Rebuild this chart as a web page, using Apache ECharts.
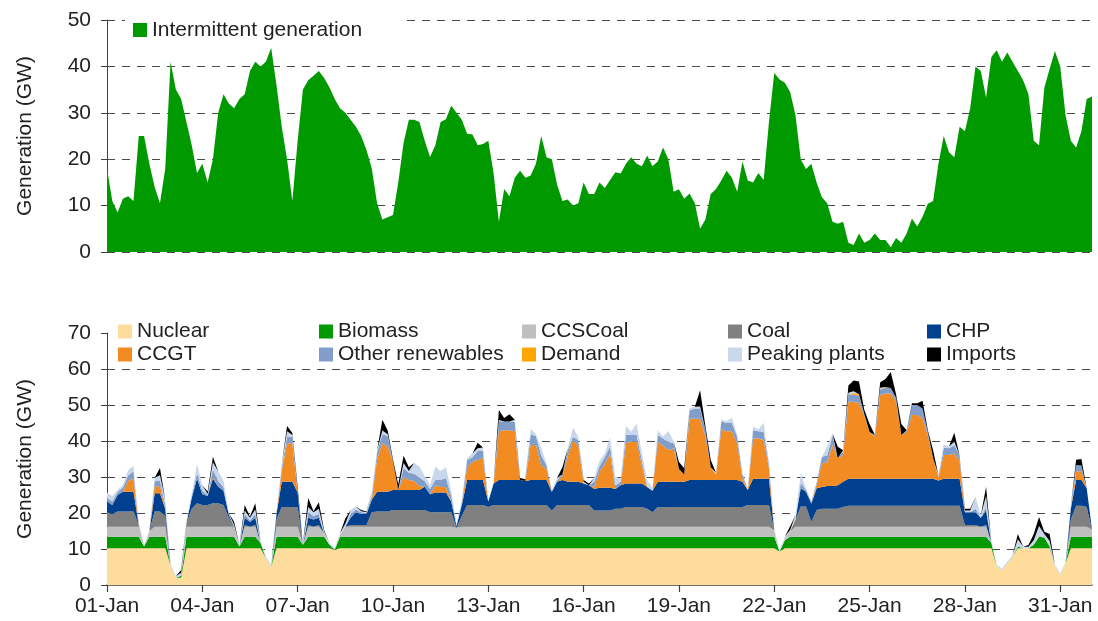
<!DOCTYPE html>
<html><head><meta charset="utf-8">
<script src="https://cdn.jsdelivr.net/npm/echarts@6/dist/echarts.min.js"></script>
<style>html,body{margin:0;padding:0;background:#fff}#c{width:1098px;height:621px}</style>
</head><body><div id="c"></div>
<script>
// time step of every series, in hours from 01-Jan 00:00
const STEP = 4;
const N_POINTS = 187;               // 01-Jan 00:00 ... 01-Feb 00:00
const TICK_EVERY = 18;              // 18 steps of 4 h = 3 days
const tickLabels = ['01-Jan','04-Jan','07-Jan','10-Jan','13-Jan','16-Jan','19-Jan','22-Jan','25-Jan','28-Jan','31-Jan'];

// top panel (GW), one value every 4 hours
const intermittent = [
18,11,8.5,11.5,12,11, 25,25,19,14,10.5,18, 41,35,33,28,23,17, 19,15,20,30,34,32,
31,33,34,39,41,40, 41,44,36,27,20,11, 24,35,37,38,39,37.5, 35.5,33,31,30,28.5,27,
25,22,18,10.5,7,7.5, 8,15,23.5,28.5,28.5,28, 24,20.5,23,28,28.6,31.5, 30,28.5,25.5,25.3,23,23.3,
24,17,6.5,13.6,12,16, 17.5,16,16.5,19,25,20.4, 20,14.5,11,11.3,10,10.5, 15,12.5,12.5,15,13.8,15.5,
17.2,16.9,19,20.4,19,18.5, 20.8,18.5,19.5,22.5,20,13, 13.5,11.5,12.6,10.5,5,7, 12.5,13.6,15.4,17.5,16,13,
19.5,15.4,15,17,15.5,28, 38.6,37.2,36.5,34.5,29.5,20, 17.9,19,15,11.8,10.5,6.5, 6.1,6.5,2,1.5,4,2,
2.6,4,2.6,2.6,1,3, 2,4,7.2,5.5,7.6,10.4, 11,19,25,21.5,20.4,27, 26,31,40,39,33.3,42,
43.5,41,43,41,39,37, 34,24,23,35.4,39.5,43.3, 40,29.5,24,22.5,26,33, 33.5];

// bottom panel layers (GW), one value every 4 hours
const nuclear = [
10.2,10.2,10.2,10.2,10.2,10.2, 10.2,10.2,10.2,10.2,10.2,10.2, 5.5,2,2,10.2,10.2,10.2, 10.2,10.2,10.2,10.2,10.2,10.2,
10.2,10.2,10.2,10.2,10.2,10.2, 7.4,5,10.2,10.2,10.2,10.2, 10.2,10.2,10.2,10.2,10.2,10.2, 10.2,9.8,10.2,10.2,10.2,10.2,
10.2,10.2,10.2,10.2,10.2,10.2, 10.2,10.2,10.2,10.2,10.2,10.2, 10.2,10.2,10.2,10.2,10.2,10.2, 10.2,10.2,10.2,10.2,10.2,10.2,
10.2,10.2,10.2,10.2,10.2,10.2, 10.2,10.2,10.2,10.2,10.2,10.2, 10.2,10.2,10.2,10.2,10.2,10.2, 10.2,10.2,10.2,10.2,10.2,10.2,
10.2,10.2,10.2,10.2,10.2,10.2, 10.2,10.2,10.2,10.2,10.2,10.2, 10.2,10.2,10.2,10.2,10.2,10.2, 10.2,10.2,10.2,10.2,10.2,10.2,
10.2,10.2,10.2,10.2,10.2,10.2, 10.2,9.3,10.2,10.2,10.2,10.2, 10.2,10.2,10.2,10.2,10.2,10.2, 10.2,10.2,10.2,10.2,10.2,10.2,
10.2,10.2,10.2,10.2,10.2,10.2, 10.2,10.2,10.2,10.2,10.2,10.2, 10.2,10.2,10.2,10.2,10.2,10.2, 10.2,10.2,10.2,10.2,10.2,10.2,
5.2,4.2,6,7.8,10.2,10.2, 10.2,10.2,10.2,10.2,10.2,5.2, 2.8,6,10.2,10.2,10.2,10.2, 10.2];
const biomass = [
3.2,3.2,3.2,3.2,3.2,3.2, 3.2,0.5,3.2,3.2,3.2,3.2, 0,0,0.6,3.2,3.2,3.2, 3.2,3.2,3.2,3.2,3.2,3.2,
3.2,0.5,3.2,3.2,3.2,1.5, 0,0,3.2,3.2,3.2,3.2, 3.2,1,3.2,3.2,3.2,3.2, 1,0,3.2,3.2,3.2,3.2,
3.2,3.2,3.2,3.2,3.2,3.2, 3.2,3.2,3.2,3.2,3.2,3.2, 3.2,3.2,3.2,3.2,3.2,3.2, 3.2,3.2,3.2,3.2,3.2,3.2,
3.2,3.2,3.2,3.2,3.2,3.2, 3.2,3.2,3.2,3.2,3.2,3.2, 3.2,3.2,3.2,3.2,3.2,3.2, 3.2,3.2,3.2,3.2,3.2,3.2,
3.2,3.2,3.2,3.2,3.2,3.2, 3.2,3.2,3.2,3.2,3.2,3.2, 3.2,3.2,3.2,3.2,3.2,3.2, 3.2,3.2,3.2,3.2,3.2,3.2,
3.2,3.2,3.2,3.2,3.2,3.2, 3.2,0,2.2,3.2,3.2,3.2, 3.2,3.2,3.2,3.2,3.2,3.2, 3.2,3.2,3.2,3.2,3.2,3.2,
3.2,3.2,3.2,3.2,3.2,3.2, 3.2,3.2,3.2,3.2,3.2,3.2, 3.2,3.2,3.2,3.2,3.2,3.2, 3.2,3.2,3.2,3.2,3.2,1.5,
0,0,0,0,0.5,0, 0,1,3.2,3,0.5,0, 0,0,3.2,3.2,3.2,3.2, 3.2];
const ccsCoal = [
2.8,2.8,2.8,2.8,2.8,2.8, 2.8,0,1.5,2.8,2.8,2.8, 0,0,0,2.8,2.8,2.8, 2.8,2.8,2.8,2.8,2.8,2.8,
2.8,0,2.8,2.8,2.8,0, 0,0,2.8,2.8,2.8,2.8, 2.8,0,2.8,2.8,2.8,1, 0,0,0.5,2.8,2.8,2.8,
2.8,2.8,2.8,2.8,2.8,2.8, 2.8,2.8,2.8,2.8,2.8,2.8, 2.8,2.8,2.8,2.8,2.8,2.8, 2.5,2.8,2.8,2.8,2.8,2.8,
2.8,2.8,2.8,2.8,2.8,2.8, 2.8,2.8,2.8,2.8,2.8,2.8, 2.8,2.8,2.8,2.8,2.8,2.8, 2.8,2.8,2.8,2.8,2.8,2.8,
2.8,2.8,2.8,2.8,2.8,2.8, 2.8,2.8,2.8,2.8,2.8,2.8, 2.8,2.8,2.8,2.8,2.8,2.8, 2.8,2.8,2.8,2.8,2.8,2.8,
2.8,2.8,2.8,2.8,2.8,2.8, 1.8,0,0.5,1.5,2.8,2.8, 2.8,2.8,2.8,2.8,2.8,2.8, 2.8,2.8,2.8,2.8,2.8,2.8,
2.8,2.8,2.8,2.8,2.8,2.8, 2.8,2.8,2.8,2.8,2.8,2.8, 2.8,2.8,2.8,2.8,2.8,2.8, 2.8,2.8,2.8,2.8,2.8,0,
0,0,0,0,0,0, 0,0,0.5,0,0,0, 0,0,2.8,2.8,2.8,2.8, 2];
const coal = [
4,3.5,4.2,4.2,4.2,4.2, 0.5,0,0,4.2,4.2,3, 0,0,0,1,5,6.5, 6,6,6.5,6.5,6,2.5,
0,0,0.5,0,0.5,0, 0,0,2,5.5,5.5,5.5, 5.5,0,0.5,0,0.5,0, 0,0,0,0,0.5,0.5,
0.5,0.5,4,4.2,4.2,4.2, 4.6,4.6,4.6,4.6,4.6,4.6, 4.6,4,4,4,4,4, 0,3,6,6,6,6,
5.5,6,6,6,6,6, 6,6,6,6,6,6, 4.5,6,6,6,6,6, 6,6,4.5,4.5,4.5,4.5,
5,5,5.5,5.5,5.5,5.5, 5,4,5.5,5.5,5.5,5.5, 5.5,5.5,5.5,5.5,5.5,5.5, 5.5,5.5,5.5,5.5,5.5,5.5,
5.5,6,6,6,6,6, 0,0,0,0,2,5.6, 5.6,1.4,4.6,5,5,5, 5,5.5,5.8,5.8,5.8,5.8,
5.8,5.8,5.8,5.8,5.8,5.8, 5.8,5.8,5.8,5.8,5.8,5.8, 5.8,5.8,5.8,5.8,5.8,5.8, 0.5,0.5,0.5,0,0.5,0,
0,0,0,0,0,0, 0,0,0,0,0,0, 0,0,2,5.8,5.8,5.5, 0];
const chp = [
3,2.5,4.6,5.5,5.5,5.5, 0,0,0,5.1,5.1,2, 0,0,0,0,3,6.9, 3,2.5,6.9,4.6,4,0.8,
0,0,2,1.3,2,0, 0,0,1.5,7,7,7, 4,0,2,2,2,0, 0,0,0,0,2,3.5,
3,3,3.5,5.5,5.5,5.5, 5.6,5.6,5.6,5.6,5.6,5.6, 6.5,5,5.5,5.5,5.5,3, 0.5,3,7,7,7,7,
1.5,6,7,7,7,7, 7,6.7,7,7,7,7, 5.2,6.5,7,6.5,6.5,6.5, 6,5.5,6,6.3,6.3,6.3,
5.5,6.5,6.5,6.5,6.5,6.5, 6,6,7,7,7,7, 7,7,7.5,7.5,7.5,7.5, 7.5,7.5,7.5,7.5,7.5,7.5,
7,4.2,7.3,7.3,7.3,7.3, 0,0,0,0,0,5.1, 4.1,5,6.1,6,6.3,6.3, 6.5,7,7.5,7.5,7.5,7.5,
7.5,7.5,7.5,7.5,7.5,7.5, 7.5,7.5,7.5,7.5,7.5,7.5, 7.5,7,7.5,7.5,7.5,7.5, 3.5,3.5,3.5,2.5,4,0,
0,0,0,0,0,0, 0,0,0,0,0,0, 0,0,3,7.2,7.2,5.2, 0];
const ccgt = [
0,0,0,0,3,3.7, 0,0,0,1.8,2,0, 0,0,0,0,0,0, 0,0,0.5,0,0,0,
0,0,0,0,0,0, 0,0,0,3,10.7,10.7, 0,0,0,0,0,0, 0,0,0,0,0,0,
0,0,0,9,13.5,12.5, 8,0,3.5,2.8,2.5,1, 0,0,2,1.5,1.5,0, 0,0,3.5,5,5.5,6,
0,0,13.5,13.8,13.8,13.5, 0,0,9.7,9.7,4,3, 0,0,1,7,11.5,10, 0,0,0.5,4.5,6.5,9.5,
0,0,11.2,11.6,11.6,5, 0,0,11,10,8.8,9.2, 3.5,2,17,17,17,12, 3.5,1.5,14,13.5,13.5,10,
1,0,11.2,11.2,10.8,3, 0,0,0,0,0,0, 0,0,1,6.6,6.5,11.4, 7.5,7.4,21.4,21.4,21,17.5,
13,11.7,23.3,23.7,23.7,21.5, 12.2,13,17.7,17.7,16.8,12, 5.7,1,6.6,6.6,7,5, 0,0,0,0,0,0,
0,0,0,0,0,0, 0,0,0,0,0,0, 0,0,0,2.3,2.5,0, 0];
const otherRenewables = [
1,1,0.8,1.2,1.5,2, 0,0,0,1.5,1.5,1, 0,0,0,0,0.5,1.5, 1,0.3,2,1.5,1,0,
0,0,1,0.5,1,0, 0,0,0,1,1.8,1.8, 0,0,1.5,1,1,0, 0,0,0,0,1,0.8,
0.5,0.3,1,2,2.5,3, 0,0,2.5,2,2,2.5, 1.5,1.5,1.5,2,2.5,1.5, 0,0.7,2,1.3,2.5,2,
0,0,2.8,2.4,2.4,2.7, 0,0,3,2.5,2.8,1, 0,0.5,0.5,1.8,1,1.5, 0,0,1.5,1.5,2,2,
1,1,2.3,2,2,1.5, 0,0,2,2,2.3,1.5, 0,0,2.3,2.8,2.8,2, 0,0,2.3,2.3,2.3,2,
1,0,2.3,2,2.3,1, 0,0,0,0,0,1.5, 0.5,0.5,0.5,1.8,2,2.5, 0,1,2,2,2,0.5,
0,0.5,1.5,1.5,1.5,1, 0,0.5,2.8,2.8,2.7,1, 0,0,2,1.9,2.3,1.5, 0,0,1,0,1,0,
0,0,0,0,0,0, 0,0,0,0,0,0, 0,0,0.5,1.8,1.5,0, 0];
const demand = [
0,0,0,0,0,0, 0,0,0,0,0,0, 0,0,0,0,0,0, 0,0,0,0,0,0,
0,0,0,0,0,0, 0,0,0,0,0,0, 0,0,0,0,0,0, 0,0,0,0,0,0,
0,0,0,0,0,0, 0,0,0,0,0,0, 0,0,0,0,0,0, 0,0,0,0,0,0,
0,0,0,0,0,0, 0,0,0,0,0,0, 0,0,0,0,0,0, 0,0,0,0,0,0,
0,0,0,0,0,0, 0,0,0,0,0,0, 0,0,0,0,0,0, 0,0,0,0,0,0,
0,0,0,0,0,0, 0,0,0,0,0,0, 0,0,0,0,0,0, 0,0,0,0.4,0.5,0,
0,0,0,0.3,0,0, 0,0,0,0,0,0, 0,0,0,0,0,0, 0,0,0,0,0,0,
0,0,0,0,0,0, 0,0,0,0,0,0, 0,0,0,0,0,0, 0];
const peakingPlants = [
1.5,1.5,0.6,0.7,1.5,1.5, 0.5,0.3,0.4,1,1.5,1.5, 0.5,0.5,0.8,0.8,0.5,2.5, 1.5,0.3,2,2.7,1.8,0.5,
0.5,0.4,1,0.7,1.3,0.5, 0.5,0.6,0.5,1,1.5,0.5, 0.5,0.5,1.5,1,1.5,0.5, 0.4,0.4,0.5,0.8,1.1,0.8,
0.3,0.2,1.3,0.5,1,0.5, 0,0,1.5,0.5,3,3, 1.5,1.1,3.7,2.5,3,1.5, 0.7,0.7,0.5,1,0.8,1,
0.4,0.5,0.3,0,0,0.5, 0,0,1.5,0.5,2,0.5, 0.5,0.6,0,0.5,2.5,1, 0.5,0,1,1.5,1,2.5,
2.3,0.9,2.5,0.8,3,2, 2,0.7,1.3,0.5,3,0.5, 0,0,0.5,0.5,0.6,0, 0,0.5,0.5,0.5,1.5,0.5,
0.5,0.5,1,0.5,2.5,0.5, 0.5,0.4,0.5,0.4,1.2,2.6, 0.5,0,0,0,2.5,0.7, 0,0.3,0.5,0.5,0,0,
0,0,0.5,0,0,0, 0,0,0,0,0,0, 0,0.5,1,0.5,1,0, 0.5,0.5,3.3,0.7,3,0.3,
0.4,0.4,0.5,0.5,2,0.4, 0.4,1.2,2.5,1,1.5,0.4, 0.4,0.4,0.3,0,0,0, 0];
const imports = [
0,0,0,0,0,0, 0,0,0,0,2,0, 0,0,0.8,0,0,0, 0,0.7,1.5,0,0,0,
0.9,0,1.5,0.3,1.7,0, 0,0,0,0,1.5,0.5, 1,0,2.5,0.3,1.8,0.4, 0,0,0,1.5,0,0,
0.3,0.2,0,0,3,1, 0.5,1.6,2,1,0,0, 0,0,0,0,0,0, 0,0,0,0,1.5,0,
0,0,2.8,1,2,0, 0.5,0.5,0,0,0,0, 0,0,2,0,0,0, 0.5,0.5,0,0,0,0,
0,0,0,0,0,0, 0,0,0,0,0,0, 2,1.7,0,0,4.5,1, 2,0,0,0,0,0,
0,0,0,0,0,0, 0,0,0,1,0,0, 0,0,0,0,0,0, 3.2,0,2,3,3.5,1.2,
2.2,0,1.5,2.2,4.5,1, 3,0,0.5,0.5,2.2,0.5, 2.2,0,0,0,2.5,0, 0.5,0.5,0,0,2.5,0,
0,0,0,0,1.5,0, 0.5,1.8,2.5,0.6,2,0, 0,0,0,1.5,1.8,0, 0];

const layers = [
  ['Nuclear', nuclear, '#FDDC9C'],
  ['Biomass', biomass, '#009A00'],
  ['CCSCoal', ccsCoal, '#BFBFBF'],
  ['Coal', coal, '#808080'],
  ['CHP', chp, '#00408E'],
  ['CCGT', ccgt, '#F38B23'],
  ['Other renewables', otherRenewables, '#809EC9'],
  ['Demand', demand, '#FFA500'],
  ['Peaking plants', peakingPlants, '#C8D7EB'],
  ['Imports', imports, '#000000']
];
const legendColumns = [['Nuclear','CCGT'],['Biomass','Other renewables'],['CCSCoal','Demand'],['Coal','Peaking plants'],['CHP','Imports']];
const legendLefts = [118, 319, 522, 728, 927];

const hours = Array.from({ length: N_POINTS }, (_, i) => String(i * STEP));
const isTick = (idx) => idx % TICK_EVERY === 0 && idx / TICK_EVERY < tickLabels.length;
const FONT = 'Liberation Sans, Arial, sans-serif';
const TXT = '#222';
const AX = '#404040';
const gridLine = { show: true, lineStyle: { color: '#4a4a4a', type: [8, 7], width: 1.2 } };

const chart = echarts.init(document.getElementById('c'), null, { renderer: 'canvas' });

const legends = [{
  data: ['Intermittent generation'], left: 125, top: 15, icon: 'rect', itemWidth: 14, itemHeight: 14,
  backgroundColor: '#fff', padding: [3, 43, 3, 8], selectedMode: false,
  textStyle: { fontSize: 21, color: TXT, fontFamily: FONT, lineHeight: 24 }
}];
legendColumns.forEach((col, i) => legends.push({
  data: col, left: legendLefts[i], top: 320, orient: 'vertical', icon: 'rect', itemWidth: 14, itemHeight: 14,
  itemGap: 0, padding: 0, selectedMode: false,
  textStyle: { fontSize: 21, color: TXT, fontFamily: FONT, lineHeight: 23 }
}));

const option = {
  animation: false,
  backgroundColor: '#fff',
  textStyle: { fontFamily: FONT },
  legend: legends,
  grid: [
    { left: 107, right: 6, top: 20, height: 232 },
    { left: 107, right: 6, top: 333, height: 252 }
  ],
  xAxis: [
    { gridIndex: 0, type: 'category', data: hours, boundaryGap: false, show: false },
    { gridIndex: 1, type: 'category', data: hours, boundaryGap: false,
      axisLine: { lineStyle: { color: AX, width: 1.5 } },
      axisTick: { length: 7, interval: (i) => isTick(i), lineStyle: { color: AX, width: 1.2 } },
      axisLabel: { interval: (i) => isTick(i), formatter: (v, i) => tickLabels[i / TICK_EVERY] || '',
                   fontSize: 21, color: TXT, margin: 11, fontFamily: FONT },
      splitLine: { show: false } }
  ],
  yAxis: [
    { gridIndex: 0, type: 'value', min: 0, max: 50, interval: 10,
      name: 'Generation (GW)', nameLocation: 'middle', nameGap: 71,
      nameTextStyle: { fontSize: 21, color: TXT, fontFamily: FONT },
      axisLine: { show: true, lineStyle: { color: AX, width: 1 } },
      axisTick: { show: true, length: 6, lineStyle: { color: AX } },
      axisLabel: { fontSize: 21, color: TXT, margin: 16, fontFamily: FONT },
      splitLine: Object.assign({}, gridLine, { showMinLine: true, showMaxLine: true }) },
    { gridIndex: 1, type: 'value', min: 0, max: 70, interval: 10,
      name: 'Generation (GW)', nameLocation: 'middle', nameGap: 71,
      nameTextStyle: { fontSize: 21, color: TXT, fontFamily: FONT },
      axisLine: { show: true, lineStyle: { color: AX, width: 1 } },
      axisTick: { show: true, length: 6, lineStyle: { color: AX } },
      axisLabel: { fontSize: 21, color: TXT, margin: 16, fontFamily: FONT },
      splitLine: Object.assign({}, gridLine, { showMinLine: false, showMaxLine: false }) }
  ],
  series: [
    { name: 'Intermittent generation', type: 'line', xAxisIndex: 0, yAxisIndex: 0,
      data: intermittent, symbol: 'none', color: '#009900',
      lineStyle: { width: 0 }, areaStyle: { color: '#009900', opacity: 1 } }
  ].concat(layers.map(([seriesName, arr, col]) => ({
      name: seriesName, type: 'line', xAxisIndex: 1, yAxisIndex: 1, stack: 'gen',
      data: arr, symbol: 'none', color: col,
      lineStyle: { width: 0 }, areaStyle: { color: col, opacity: 1 }
  })))
};
chart.setOption(option);
</script></body></html>
